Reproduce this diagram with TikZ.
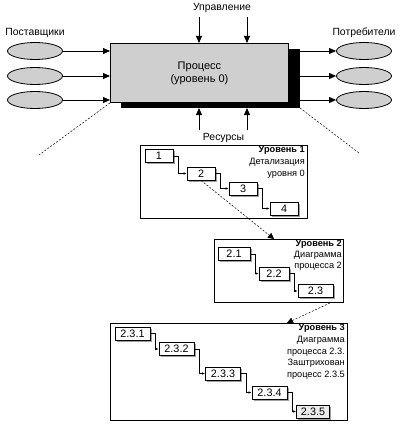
\documentclass[tikz,border=0pt]{standalone}
\usepackage{fontspec}
\setmainfont{Liberation Sans}
\usetikzlibrary{arrows.meta,shapes.geometric,shadows,calc}
\tikzset{
  lbl/.style={font=\fontsize{10.4}{12}\selectfont, inner sep=0pt},
  src/.style={ellipse, draw, line width=0.8pt, fill=gray!38, minimum width=55pt, minimum height=17pt, inner sep=0pt},
  bigarrow/.style={line width=0.9pt, -{Triangle[length=7pt,width=6pt]}},
  dotline/.style={line width=0.5pt, dash pattern=on 2pt off 1.6pt},
  frame/.style={draw, line width=1pt, anchor=north west, inner sep=0pt},
  sbox/.style={draw, fill=white, line width=0.8pt, minimum height=13pt, inner sep=0pt,
     font=\fontsize{10.8}{11}\selectfont,
     drop shadow={shadow xshift=1.6pt, shadow yshift=-1.6pt, fill=gray!75, opacity=1}},
  conn/.style={line width=0.55pt, -{Latex[length=3pt,width=2.5pt]}},
  lvl/.style={anchor=north east, align=right, inner sep=0pt, font=\fontsize{9.2}{11.7}\selectfont},
}
\begin{document}
\begin{tikzpicture}[x=1pt,y=-1pt]
\useasboundingbox (0,0) rectangle (400,428);
% shadow of main box
\fill (121,49) rectangle (300,108);
\coordinate (shr) at (300,72);
\coordinate (shb) at (200,108);
\node[draw, line width=0.9pt, fill=gray!38, minimum width=178pt, minimum height=59pt, inner sep=0pt, anchor=north west,
  align=center, font=\fontsize{11}{13}\selectfont] (main) at (110,43) {Процесс\\(уровень 0)};
% labels
\node[lbl] (ctl) at (222,8) {Управление};
\node[lbl] (res) at (223.5,138) {Ресурсы};
\node[lbl] (sup) at (35,33) {Поставщики};
\node[lbl] (con) at (364,33) {Потребители};
% ellipses
\node[src] (s1) at (35,51) {};
\node[src] (s2) at (35,76) {};
\node[src] (s3) at (35,100) {};
\node[src] (c1) at (364,51) {};
\node[src] (c2) at (364,76) {};
\node[src] (c3) at (364,100) {};
\foreach \s in {s1,s2,s3}{\draw[bigarrow] (\s.east) -- (\s.east -| main.west);}
\foreach \c in {c1,c2,c3}{\draw[bigarrow] (shr |- \c.west) -- (\c.west);}
% control and resources
\coordinate (u1) at (199,17);
\coordinate (u2) at (247,17);
\coordinate (r1) at (199,130);
\coordinate (r2) at (247,130);
\draw[bigarrow] (u1) -- (u1 |- main.north);
\draw[bigarrow] (u2) -- (u2 |- main.north);
\draw[bigarrow] (r1) -- (r1 |- shb);
\draw[bigarrow] (r2) -- (r2 |- shb);
% dotted zoom lines
\coordinate (dl) at (39,155);
\coordinate (dr) at (359,153);
\coordinate (shc) at (300,108);
\draw[dotline] (main.south west) -- (dl);
\draw[dotline] (shc) -- (dr);
% Level 1
\node[frame, minimum width=167pt, minimum height=73pt] (L1) at (140,145) {};
\node[lvl, font=\fontsize{9.2}{12}\selectfont] (t1) at (305,146) {\textbf{Уровень 1}\\Детализация\\уровня 0};
\node[sbox, minimum width=28pt] (b1) at (159,156) {1};
\node[sbox, minimum width=28pt] (b2) at (201,173.5) {2};
\node[sbox, minimum width=28pt] (b3) at (243,188.5) {3};
\node[sbox, minimum width=28pt] (b4) at (284,208.5) {4};
\draw[conn] (b1.east) -- ++(5,0) |- (b2.west);
\draw[conn] (b2.east) -- ++(5,0) |- (b3.west);
\draw[conn] (b3.east) -- ++(5,0) |- (b4.west);
% Level 2
\node[frame, minimum width=129pt, minimum height=63pt] (L2) at (214,239) {};
\node[lvl, font=\fontsize{9.2}{11}\selectfont] (t2) at (342,240) {\textbf{Уровень 2}\\Диаграмма\\процесса 2};
\node[sbox, minimum width=32pt] (b21) at (234,254) {2.1};
\node[sbox, minimum width=30pt] (b22) at (274,273.5) {2.2};
\node[sbox, minimum width=35pt] (b23) at (315.5,291) {2.3};
\draw[conn] (b21.east) -- ++(5,0) |- (b22.west);
\draw[conn] (b22.east) -- ++(5,0) |- (b23.west);
\coordinate (t2top) at ($(L2.north west)+(60,0)$);
\draw[dotline, -{Triangle[length=6pt,width=6pt]}] (b2.south) -- (t2top);
% Level 3
\node[frame, minimum width=237pt, minimum height=97pt] (L3) at (110,323) {};
\node[lvl] (t3) at (345,324) {\textbf{Уровень 3}\\Диаграмма\\процесса 2.3.\\Заштрихован\\процесс 2.3.5};
\node[sbox, minimum width=35pt] (b31) at (132.5,333.5) {2.3.1};
\node[sbox, minimum width=35pt] (b32) at (176.5,349) {2.3.2};
\node[sbox, minimum width=35pt] (b33) at (223,373.5) {2.3.3};
\node[sbox, minimum width=35pt] (b34) at (269.5,392.5) {2.3.4};
\node[sbox, minimum width=33pt, fill=gray!15] (b35) at (313,411.5) {2.3.5};
\draw[conn] (b31.east) -- ++(5,0) |- (b32.west);
\draw[conn] (b32.east) -- ++(5,0) |- (b33.west);
\draw[conn] (b33.east) -- ++(5,0) |- (b34.west);
\draw[conn] (b34.east) -- ++(5,0) |- (b35.west);
\coordinate (s3start) at ($(L2.south east)+(-14,0)$);
\coordinate (t3top) at ($(L3.north west)+(177,0)$);
\draw[dotline, -{Triangle[length=6pt,width=6pt]}] (s3start) -- (t3top);
\end{tikzpicture}
\end{document}
